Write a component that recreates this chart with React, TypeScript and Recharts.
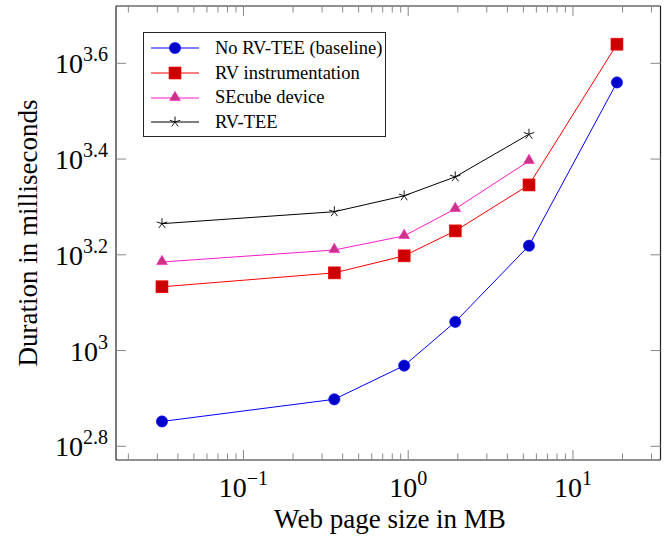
import React from "react";
import { LineChart, Line, XAxis, YAxis, Legend } from "recharts";

// page sizes (MB) and durations (ms)
const pageSizes = [0.032, 0.356, 0.945, 1.93, 5.41, 18.5];
const baselineMs = [711, 791, 930, 1148, 1656, 3631];
const rvInstrMs = [1359, 1453, 1577, 1778, 2218, 4365];
const secubeMs = [1531, 1622, 1736, 1977, 2489];
const rvTeeMs = [1841, 1950, 2105, 2306, 2831];

const xTicks = [
  0.02, 0.03, 0.04, 0.05, 0.06, 0.07, 0.08, 0.09, 0.1,
  0.2, 0.3, 0.4, 0.5, 0.6, 0.7, 0.8, 0.9, 1,
  2, 3, 4, 5, 6, 7, 8, 9, 10, 20, 30,
];
const yTickExps = [2.8, 3, 3.2, 3.4, 3.6];
const yTicks = yTickExps.map((e) => Math.pow(10, e));

const FONT = "'Liberation Serif', 'DejaVu Serif', serif";

type Shape = "circle" | "square" | "triangle" | "star";

const series: { name: string; values: number[]; line: string; fill: string; shape: Shape }[] = [
  { name: "No RV-TEE (baseline)", values: baselineMs, line: "#0000ff", fill: "#0000cc", shape: "circle" },
  { name: "RV instrumentation", values: rvInstrMs, line: "#ff0000", fill: "#cc0000", shape: "square" },
  { name: "SEcube device", values: secubeMs, line: "#ff19c8", fill: "#cc3385", shape: "triangle" },
  { name: "RV-TEE", values: rvTeeMs, line: "#000000", fill: "#000000", shape: "star" },
];

const toData = (values: number[]) => values.map((v, i) => ({ x: pageSizes[i], y: v }));

const Marker = ({ cx, cy, shape, line, fill }: any) => {
  if (shape === "circle") return <circle cx={cx} cy={cy} r={5.6} fill={fill} stroke={line} strokeWidth={0.6} />;
  if (shape === "square")
    return <rect x={cx - 6} y={cy - 6} width={12} height={12} fill={fill} stroke={line} strokeWidth={0.6} />;
  if (shape === "triangle") {
    const r = 6.2;
    const pts = [0, 1, 2]
      .map((k) => {
        const a = (-90 + k * 120) * (Math.PI / 180);
        return `${cx + r * Math.cos(a)},${cy + r * Math.sin(a) - 0.5}`;
      })
      .join(" ");
    return <polygon points={pts} fill={fill} stroke={line} strokeWidth={0.6} />;
  }
  const r = 5.5;
  return (
    <g stroke="#000" strokeWidth={0.9}>
      {[0, 1, 2, 3, 4].map((k) => {
        const a = (-90 + k * 72) * (Math.PI / 180);
        return <line key={k} x1={cx} y1={cy} x2={cx + r * Math.cos(a)} y2={cy + r * Math.sin(a)} />;
      })}
    </g>
  );
};

const isMajor = (v: number) => Math.abs(Math.log10(v) - Math.round(Math.log10(v))) < 1e-6;

const XTick = (props: any) => {
  const { x, y, payload, top } = props;
  const v = payload.value;
  const major = isMajor(v);
  const len = major ? 10 : 6.5;
  const e = Math.round(Math.log10(v));
  return (
    <g>
      <line x1={x} x2={x} y1={y} y2={top ? y + len : y - len} stroke="#888" strokeWidth={1} />
      {!top && major && (
        <text x={x} y={y + 37} textAnchor="middle" fontFamily={FONT} fontSize={28} fill="#000">
          10
          <tspan dy={-12} fontSize={20}>
            {e < 0 ? `\u2212${-e}` : `${e}`}
          </tspan>
        </text>
      )}
    </g>
  );
};

const YTick = (props: any) => {
  const { x, y, payload, right } = props;
  const exp = Math.round(Math.log10(payload.value) * 10) / 10;
  return (
    <g>
      <line x1={x} x2={right ? x - 10 : x + 10} y1={y} y2={y} stroke="#888" strokeWidth={1} />
      {!right && (
        <text x={x - 8} y={y + 10} textAnchor="end" fontFamily={FONT} fontSize={28} fill="#000">
          10
          <tspan dy={-12} fontSize={20}>
            {exp === Math.round(exp) ? exp.toFixed(0) : exp.toFixed(1)}
          </tspan>
        </text>
      )}
    </g>
  );
};

const LegendBox = () => (
  <div
    style={{
      border: "1.2px solid #222",
      background: "#fff",
      width: 243,
      height: 105,
      boxSizing: "border-box",
      padding: "3px 0 0 6px",
      fontFamily: FONT,
      fontSize: 18.5,
    }}
  >
    {series.map((s) => (
      <div key={s.name} style={{ display: "flex", alignItems: "center", height: 24.7 }}>
        <svg width={50} height={20} style={{ marginRight: 15 }}>
          <line x1={1} x2={49} y1={10} y2={10} stroke={s.line} strokeWidth={1} />
          <Marker cx={25} cy={10} shape={s.shape} line={s.line} fill={s.fill} />
        </svg>
        <span>{s.name}</span>
      </div>
    ))}
  </div>
);

const xDomain = [0.01683, 34.0];
const yDomain = [590.7, 5245];
const frame = { stroke: "#222", strokeWidth: 1.2 };

export default function App() {
  return (
    <div style={{ position: "absolute", left: 0, top: 0, background: "#fff" }}>
      <LineChart width={668} height={538} margin={{ top: 5, right: 6.5, bottom: 77, left: 115 }}>
        <XAxis
          xAxisId="b"
          type="number"
          dataKey="x"
          scale="log"
          domain={xDomain}
          allowDataOverflow
          ticks={xTicks}
          interval={0}
          height={1}
          tickSize={0}
          tickMargin={0}
          tickLine={false}
          axisLine={frame}
          tick={<XTick />}
        />
        <XAxis
          xAxisId="t"
          orientation="top"
          type="number"
          dataKey="x"
          scale="log"
          domain={xDomain}
          allowDataOverflow
          ticks={xTicks}
          interval={0}
          height={1}
          tickSize={0}
          tickMargin={0}
          tickLine={false}
          axisLine={frame}
          tick={<XTick top />}
        />
        <YAxis
          yAxisId="l"
          type="number"
          dataKey="y"
          scale="log"
          domain={yDomain}
          allowDataOverflow
          ticks={yTicks}
          interval={0}
          width={1}
          tickSize={0}
          tickMargin={0}
          tickLine={false}
          axisLine={frame}
          tick={<YTick />}
        />
        <YAxis
          yAxisId="r"
          orientation="right"
          type="number"
          dataKey="y"
          scale="log"
          domain={yDomain}
          allowDataOverflow
          ticks={yTicks}
          interval={0}
          width={1}
          tickSize={0}
          tickMargin={0}
          tickLine={false}
          axisLine={frame}
          tick={<YTick right />}
        />
        {series.map((s) => (
          <Line
            key={s.name}
            xAxisId="b"
            yAxisId="l"
            data={toData(s.values)}
            dataKey="y"
            name={s.name}
            type="linear"
            stroke={s.line}
            strokeWidth={1}
            isAnimationActive={false}
            dot={(p: any) => <Marker key={`${s.name}-${p.index}`} cx={p.cx} cy={p.cy} shape={s.shape} line={s.line} fill={s.fill} />}
            activeDot={false}
          />
        ))}
        <Legend
          layout="vertical"
          align="center"
          verticalAlign="middle"
          content={() => <LegendBox />}
          wrapperStyle={{ position: "absolute", left: 143, top: 32, width: 243, height: 105 }}
        />
        <text x={390} y={528} textAnchor="middle" fontFamily={FONT} fontSize={27} fill="#000">
          Web page size in MB
        </text>
        <text
          x={0}
          y={0}
          transform="translate(37 233) rotate(-90)"
          textAnchor="middle"
          fontFamily={FONT}
          fontSize={27}
          fill="#000"
        >
          Duration in milliseconds
        </text>
      </LineChart>
    </div>
  );
}
